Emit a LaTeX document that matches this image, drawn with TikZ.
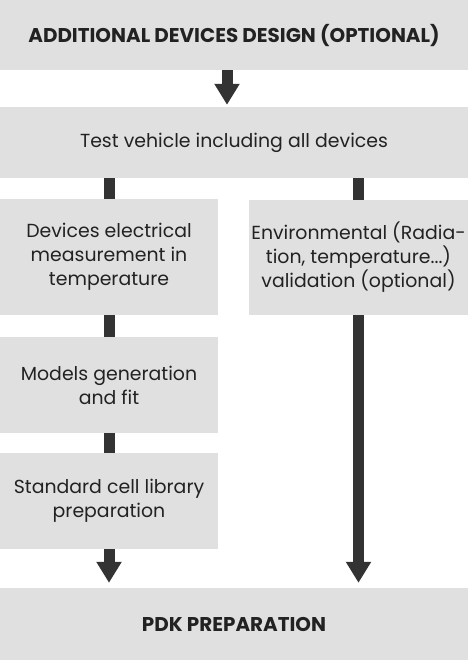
\documentclass[tikz,border=0pt]{standalone}
\usepackage{fontspec}
\setmainfont{Poppins}
\usetikzlibrary{arrows.meta}
\definecolor{boxgray}{HTML}{E0E0E0}
\definecolor{arrowdark}{HTML}{333333}
\definecolor{textdark}{HTML}{222222}
\begin{document}
\begin{tikzpicture}[x=1pt,y=-1pt,
  box/.style={rectangle, fill=boxgray, draw=none, inner sep=0pt, align=center,
    text=textdark, font=\fontsize{18.9}{24}\selectfont},
  headbox/.style={box, font=\fontsize{19.9}{24}\selectfont\bfseries},
  conn/.style={draw=arrowdark, line width=11pt},
  arr/.style={conn, -{Triangle[width=24pt,length=21pt]}}
]
\useasboundingbox (0,0) rectangle (468,660);
\node[headbox, minimum width=468pt, minimum height=70pt] (top) at (234,35) {ADDITIONAL DEVICES DESIGN (OPTIONAL)};
\node[box, minimum width=468pt, minimum height=71pt] (test) at (234,142.5) {Test vehicle including all devices};
\node[box, minimum width=218pt, minimum height=116pt] (dev) at (109,257) {Devices electrical\\measurement in\\temperature};
\node[box, minimum width=219pt, minimum height=115pt] (env) at (358.5,257.5) {Environmental (Radia-\\tion, temperature...)\\validation (optional)};
\node[box, minimum width=218pt, minimum height=96pt] (mod) at (109,385) {Models generation\\and fit};
\node[box, minimum width=218pt, minimum height=96pt] (std) at (109,501) {Standard cell library\\preparation};
\node[headbox, minimum width=468pt, minimum height=72pt] (pdk) at (234,624) {PDK PREPARATION};
\coordinate (tx) at (227,0);
\draw[arr, shorten >=2pt] (top.south -| tx) -- (test.north -| tx);
\draw[conn] (test.south -| dev.south) -- (dev.north);
\draw[conn] (test.south -| env.south) -- (env.north);
\draw[conn] (dev.south) -- (mod.north);
\draw[conn] (mod.south) -- (std.north);
\draw[arr, shorten >=5pt] (std.south) -- (pdk.north -| std.south);
\draw[arr, shorten >=5pt] (env.south) -- (pdk.north -| env.south);
\end{tikzpicture}
\end{document}
